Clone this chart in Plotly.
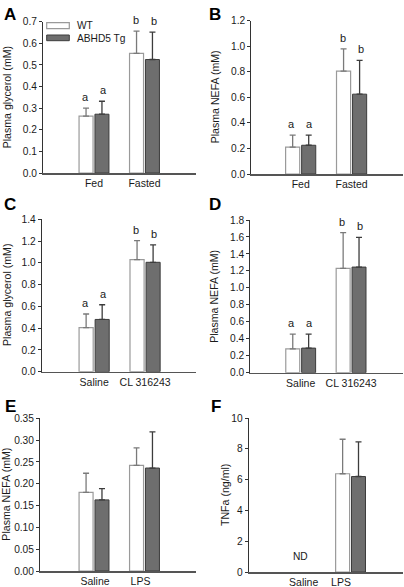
import plotly.graph_objects as go

# ---------------- data ----------------
cat_AB = ["Fed", "Fasted"]
cat_CD = ["Saline", "CL 316243"]
cat_EF = ["Saline", "LPS"]

A_wt = [0.263, 0.553]; A_wt_err = [0.037, 0.103]
A_tg = [0.272, 0.525]; A_tg_err = [0.060, 0.127]
A_wt_lab = ["a", "b"]; A_tg_lab = ["a", "b"]

B_wt = [0.21, 0.805]; B_wt_err = [0.095, 0.175]
B_tg = [0.225, 0.625]; B_tg_err = [0.080, 0.265]
B_wt_lab = ["a", "b"]; B_tg_lab = ["a", "b"]

C_wt = [0.405, 1.03]; C_wt_err = [0.125, 0.175]
C_tg = [0.48, 1.005]; C_tg_err = [0.135, 0.160]
C_wt_lab = ["a", "b"]; C_tg_lab = ["a", "b"]

D_wt = [0.28, 1.23]; D_wt_err = [0.175, 0.42]
D_tg = [0.29, 1.245]; D_tg_err = [0.165, 0.35]
D_wt_lab = ["a", "b"]; D_tg_lab = ["a", "b"]

E_wt = [0.180, 0.242]; E_wt_err = [0.044, 0.040]
E_tg = [0.163, 0.236]; E_tg_err = [0.026, 0.083]

F_wt = [None, 6.38]; F_wt_err = [0, 2.24]
F_tg = [None, 6.20]; F_tg_err = [0, 2.25]

y_titles = ["Plasma glycerol (mM)", "Plasma NEFA (mM)", "Plasma glycerol (mM)",
            "Plasma NEFA (mM)", "Plasma NEFA (mM)", "TNFa (ng/ml)"]
panel_letters = ["A", "B", "C", "D", "E", "F"]
series_names = ["WT", "ABHD5 Tg"]

# ---------------- layout geometry ----------------
W, H = 404, 587
def px(x): return x / W
def py(y): return 1 - y / H

panels = [
    dict(cats=cat_AB, wt=A_wt, we=A_wt_err, tg=A_tg, te=A_tg_err, wl=A_wt_lab, tl=A_tg_lab,
         xd=[px(43), px(196)], yd=[py(173), py(21.7)], xr=[-1.01, 2.02], yr=[0, 0.7], dt=0.1, fmt=".1f",
         title_x=7),
    dict(cats=cat_AB, wt=B_wt, we=B_wt_err, tg=B_tg, te=B_tg_err, wl=B_wt_lab, tl=B_tg_lab,
         xd=[px(251.3), px(403)], yd=[py(174), py(20.7)], xr=[-0.97, 2.01], yr=[0, 1.2], dt=0.2, fmt=".1f",
         title_x=215),
    dict(cats=cat_CD, wt=C_wt, we=C_wt_err, tg=C_tg, te=C_tg_err, wl=C_wt_lab, tl=C_tg_lab,
         xd=[px(41.7), px(196)], yd=[py(371.7), py(219.3)], xr=[-1.03, 2.0], yr=[0, 1.4], dt=0.2, fmt=".1f",
         title_x=6.5),
    dict(cats=cat_CD, wt=D_wt, we=D_wt_err, tg=D_tg, te=D_tg_err, wl=D_wt_lab, tl=D_tg_lab,
         xd=[px(250.3), px(403)], yd=[py(372.7), py(220)], xr=[-1.0, 2.03], yr=[0, 1.8], dt=0.2, fmt=".1f",
         title_x=214.5),
    dict(cats=cat_EF, wt=E_wt, we=E_wt_err, tg=E_tg, te=E_tg_err, wl=None, tl=None,
         xd=[px(40), px(196)], yd=[py(571), py(418.3)], xr=[-1.07, 2.02], yr=[0, 0.35], dt=0.05, fmt=".2f",
         tickpos=[0.02, 0.92], title_x=6),
    dict(cats=cat_EF, wt=F_wt, we=F_wt_err, tg=F_tg, te=F_tg_err, wl=None, tl=None,
         xd=[px(248.7), px(403)], yd=[py(572), py(418)], xr=[-1.02, 2.04], yr=[0, 10], dt=2, fmt="d",
         tickpos=[0.07, 0.81], title_x=225),
]
letter_pos = [(1.5, 3), (206.5, 3), (1.5, 193), (206.5, 193), (2.5, 395), (208.5, 395)]

WT_FILL, WT_LINE, WT_ERR = "white", "#9a9a9a", "#7a7a7a"
TG_FILL, TG_LINE, TG_ERR = "#6e6e6e", "#3c3c3c", "#3c3c3c"
FONT = "Liberation Sans, Arial, sans-serif"
TXT = "#1a1a1a"

fig = go.Figure()
annotations = []
for i, p in enumerate(panels):
    n = i + 1
    xa = "x" if n == 1 else f"x{n}"
    ya = "y" if n == 1 else f"y{n}"
    xs = list(range(len(p["cats"])))
    fig.add_trace(go.Bar(x=xs, y=p["wt"], name=series_names[0], xaxis=xa, yaxis=ya,
                         marker=dict(color=WT_FILL, line=dict(color=WT_LINE, width=1.2)),
                         error_y=dict(type="data", array=p["we"], arrayminus=[0] * len(xs), symmetric=False,
                                      color=WT_ERR, thickness=1.3, width=3),
                         showlegend=False, offsetgroup="wt", hoverinfo="skip"))
    fig.add_trace(go.Bar(x=xs, y=p["tg"], name=series_names[1], xaxis=xa, yaxis=ya,
                         marker=dict(color=TG_FILL, line=dict(color=TG_LINE, width=1.0)),
                         error_y=dict(type="data", array=p["te"], arrayminus=[0] * len(xs), symmetric=False,
                                      color=TG_ERR, thickness=1.3, width=3),
                         showlegend=False, offsetgroup="tg", hoverinfo="skip"))
    yt = []
    v = 0.0
    while v <= p["yr"][1] + 1e-9:
        yt.append(round(v, 4))
        v += p["dt"]
    if p["fmt"] == "d":
        ytt = [str(int(t)) for t in yt]
    else:
        ytt = [format(t, p["fmt"]) for t in yt]
    key_x = "xaxis" if n == 1 else f"xaxis{n}"
    key_y = "yaxis" if n == 1 else f"yaxis{n}"
    fig.layout[key_x] = dict(domain=p["xd"], range=p["xr"], anchor=ya, automargin=False, fixedrange=True,
                             tickmode="array", tickvals=p.get("tickpos", xs), ticktext=p["cats"],
                             showline=True, linecolor="#555", linewidth=1.5, ticks="",
                             showgrid=False, zeroline=False,
                             tickfont=dict(family=FONT, size=10.5, color=TXT))
    fig.layout[key_y] = dict(domain=p["yd"], range=p["yr"], anchor=xa, automargin=False, fixedrange=True,
                             tickmode="array", tickvals=yt, ticktext=ytt,
                             showline=True, linecolor="#333", linewidth=1, ticks="outside",
                             ticklen=3, tickcolor="#333", showgrid=False, zeroline=False,
                             tickfont=dict(family=FONT, size=10.2, color=TXT))
    # y-axis title
    annotations.append(dict(x=px(p["title_x"]), y=(p["yd"][0] + p["yd"][1]) / 2, xref="paper", yref="paper",
                            text=y_titles[i], textangle=-90, showarrow=False,
                            xanchor="center", yanchor="middle",
                            font=dict(family=FONT, size=10.6, color=TXT)))
    # significance letters
    for labs, vals, errs, shift in ((p["wl"], p["wt"], p["we"], -9), (p["tl"], p["tg"], p["te"], 9)):
        if labs is None:
            continue
        for xi, (lab, val, er) in enumerate(zip(labs, vals, errs)):
            annotations.append(dict(x=xi, y=val + er, xref=xa, yref=ya, text=lab, showarrow=False,
                                    xshift=shift, yshift=3, yanchor="bottom",
                                    font=dict(family=FONT, size=11, color=TXT)))
    lx, ly = letter_pos[i]
    annotations.append(dict(x=px(lx), y=py(ly), xref="paper", yref="paper", text=f"<b>{panel_letters[i]}</b>",
                            showarrow=False, xanchor="left", yanchor="top",
                            font=dict(family=FONT, size=17, color="black")))

# ND label in panel F
annotations.append(dict(x=0, y=1.0, xref="x6", yref="y6", text="ND", showarrow=False,
                        font=dict(family=FONT, size=10.2, color=TXT)))

# legend (panel A)
shapes = [
    dict(type="rect", xref="paper", yref="paper", x0=px(46.7), x1=px(69.3), y0=py(28.7), y1=py(22.7),
         fillcolor=WT_FILL, line=dict(color=WT_LINE, width=1.2)),
    dict(type="rect", xref="paper", yref="paper", x0=px(46.7), x1=px(69.3), y0=py(40.7), y1=py(35),
         fillcolor=TG_FILL, line=dict(color=TG_LINE, width=1)),
]
annotations.append(dict(x=px(74.5), y=py(25.7), xref="paper", yref="paper", text=series_names[0],
                        showarrow=False, xanchor="left", yanchor="middle",
                        font=dict(family=FONT, size=10.2, color=TXT)))
annotations.append(dict(x=px(74.5), y=py(38), xref="paper", yref="paper", text=series_names[1],
                        showarrow=False, xanchor="left", yanchor="middle",
                        font=dict(family=FONT, size=10.2, color=TXT)))

fig.update_layout(width=W, height=H, margin=dict(l=0, r=0, t=0, b=0, pad=0, autoexpand=False),
                  paper_bgcolor="white", plot_bgcolor="white",
                  barmode="group", bargap=0.37, bargroupgap=0.12, hovermode=False,
                  annotations=annotations, shapes=shapes, showlegend=False)

fig.write_html("out.html", config={"displayModeBar": False, "staticPlot": True},
               post_script="document.body.style.margin='0';document.body.style.padding='0';"
                           "document.body.style.overflow='hidden';")
